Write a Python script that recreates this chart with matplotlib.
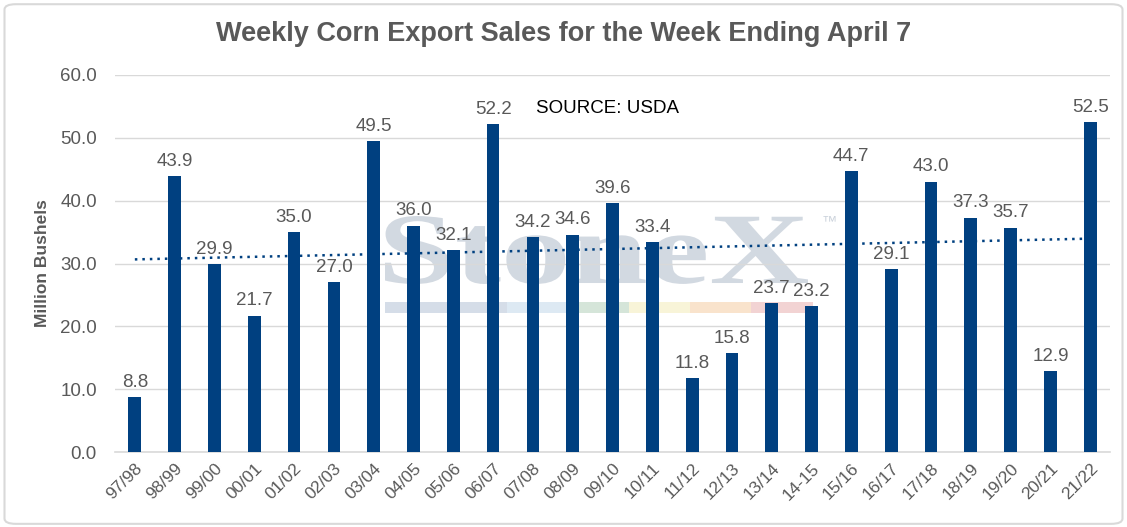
import numpy as np
import matplotlib.pyplot as plt
from matplotlib.patches import FancyBboxPatch, Rectangle, PathPatch
from matplotlib.textpath import TextPath
from matplotlib.font_manager import FontProperties
from matplotlib.transforms import Affine2D

years = ['97/98', '98/99', '99/00', '00/01', '01/02', '02/03', '03/04', '04/05',
         '05/06', '06/07', '07/08', '08/09', '09/10', '10/11', '11/12', '12/13',
         '13/14', '14-15', '15/16', '16/17', '17/18', '18/19', '19/20', '20/21', '21/22']
sales = [8.8, 43.9, 29.9, 21.7, 35.0, 27.0, 49.5, 36.0, 32.1, 52.2, 34.2, 34.6,
         39.6, 33.4, 11.8, 15.8, 23.7, 23.2, 44.7, 29.1, 43.0, 37.3, 35.7, 12.9, 52.5]
yticks = [0, 10, 20, 30, 40, 50, 60]

plt.rcParams['font.family'] = ['Liberation Sans', 'DejaVu Sans']
bar_color = '#004080'
text_color = '#595959'

W, H = 1127, 527
fig = plt.figure(figsize=(W / 100, H / 100), dpi=100)
ax = fig.add_axes([0.102, 0.142, 0.883, 0.716])
ax.set_facecolor('none')

# rounded border round the whole chart
fig.patches.append(FancyBboxPatch((0.004, 0.006), 0.992, 0.986, boxstyle='round,pad=0,rounding_size=0.01',
                                  transform=fig.transFigure, fill=False, edgecolor='#d9d9d9', linewidth=1.5))

x = np.arange(len(years))
ax.bar(x, sales, width=0.32, color=bar_color, zorder=3)

for xi, v in zip(x, sales):
    ax.text(xi, v + 1.0, f'{v:.1f}', ha='center', va='bottom', fontsize=13.5, color=text_color, zorder=4)

# linear trend line
k, b = np.polyfit(x, sales, 1)
ax.plot(x, k * x + b, linestyle=(0, (1, 2)), color=bar_color, linewidth=1.8, zorder=2)

# faint watermark, stretched to the logo's box (pixels 385-808 x, 216-284 y)
tp = TextPath((0, 0), 'StoneX', size=100, prop=FontProperties(family='Liberation Serif', weight='bold'))
ext = tp.get_extents()
x0, x1, y0, y1 = 385 / W, 808 / W, 1 - 284 / H, 1 - 216 / H
tr = Affine2D().translate(-ext.x0, -ext.y0).scale((x1 - x0) / ext.width, (y1 - y0) / ext.height).translate(x0, y0)
ax.add_patch(PathPatch(tp, transform=tr + fig.transFigure, facecolor='#ced5de', edgecolor='none',
                       alpha=0.9, zorder=1, clip_on=False))
ax.text(0.71, 0.6, '™', transform=ax.transAxes, fontsize=11, color='#ccd3dc', zorder=1)
strip_cols = ['#d5dde8', '#d5dde8', '#dde9f3', '#d5e5d9', '#f8f4d8', '#f9e3cc', '#f2d3d3']
seg_w = 0.43 / len(strip_cols)
for i, c in enumerate(strip_cols):
    ax.add_patch(Rectangle((0.271 + i * seg_w, 0.368), seg_w, 0.03, transform=ax.transAxes,
                           color=c, linewidth=0, zorder=1))

ax.text(0.423, 0.9, 'SOURCE: USDA', transform=ax.transAxes, fontsize=13.5, color='black', zorder=4)

ax.set_xlim(-0.5, len(years) - 0.5)
ax.set_ylim(0, 60)
ax.set_yticks(yticks)
ax.set_yticklabels([f'{t:.1f}' for t in yticks], fontsize=13.5, color=text_color)
ax.set_xticks(x)
ax.set_xticklabels(years, rotation=45, ha='right', rotation_mode='anchor', fontsize=12.5, color=text_color)
ax.tick_params(axis='y', length=0, pad=13)
ax.tick_params(axis='x', length=0, pad=6)
ax.grid(axis='y', color='#d9d9d9', linewidth=1, zorder=0)
for s in ['top', 'right', 'left']:
    ax.spines[s].set_visible(False)
ax.spines['bottom'].set_color('#d9d9d9')
ax.spines['bottom'].set_linewidth(1.2)

ax.set_ylabel('Million Bushels', fontsize=12.5, fontweight='bold', color=text_color, labelpad=7)
fig.text(0.5, 0.935, 'Weekly Corn Export Sales for the Week Ending April 7', ha='center', va='center',
         fontsize=19.5, fontweight='bold', color=text_color)

fig.savefig('out.png', dpi=100)
